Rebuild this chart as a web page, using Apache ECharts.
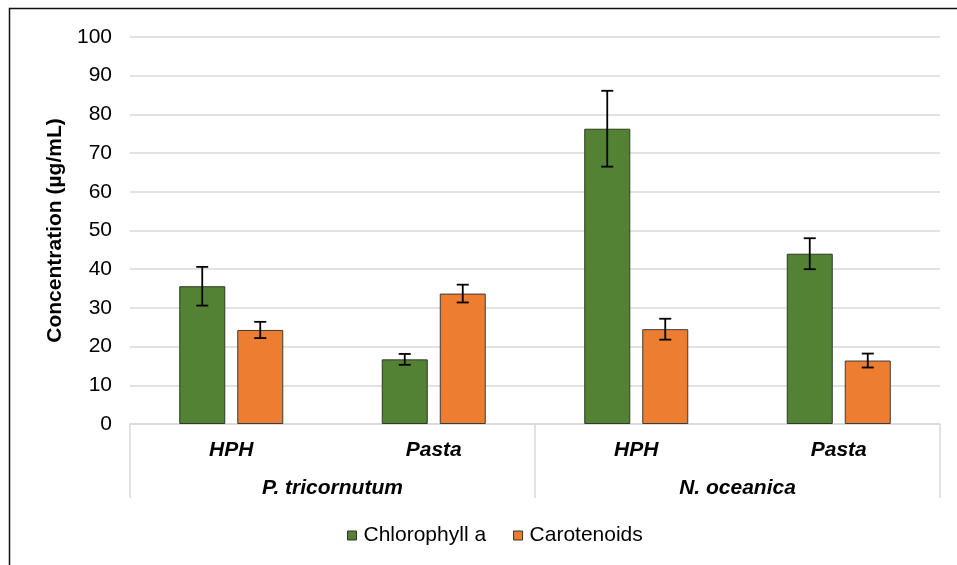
<!DOCTYPE html>
<html>
<head>
<meta charset="utf-8">
<script src="https://cdn.jsdelivr.net/npm/echarts@6/dist/echarts.min.js"></script>
<style>
  html, body { margin: 0; padding: 0; background: #fff; }
  #chart { width: 957px; height: 565px; }
</style>
</head>
<body>
<div id="chart"></div>
<script>
// Pigment concentration by species and extraction method
const categories = ['HPH', 'Pasta', 'HPH', 'Pasta'];
const species = ['P. tricornutum', 'N. oceanica'];
const chlorophyll = [35.6, 16.7, 76.3, 44.0];
const chlorophyllErr = [5.0, 1.4, 9.8, 4.0];
const carotenoids = [24.3, 33.7, 24.5, 16.4];
const carotenoidsErr = [2.1, 2.3, 2.7, 1.8];
const yTicks = { min: 0, max: 100, interval: 10 };

const FONT = '"Liberation Sans", Arial, sans-serif';
const FS = 21;
const BAR_W = 46;
const BAR_GAP = 12;
const SHIFT = (BAR_W + BAR_GAP) / 2;

function errorSeries(name, values, errs, dir) {
  return {
    name: name,
    type: 'custom',
    xAxisIndex: 0,
    z: 10,
    silent: true,
    data: values.map((v, i) => [i, v - errs[i], v + errs[i]]),
    renderItem: function (params, api) {
      const lo = api.coord([api.value(0), api.value(1)]);
      const hi = api.coord([api.value(0), api.value(2)]);
      const x = lo[0] + dir * SHIFT;
      const cap = 6;
      const style = { stroke: '#000', lineWidth: 1.8 };
      return {
        type: 'group',
        children: [
          { type: 'line', shape: { x1: x, y1: lo[1], x2: x, y2: hi[1] }, style: style },
          { type: 'line', shape: { x1: x - cap, y1: lo[1], x2: x + cap, y2: lo[1] }, style: style },
          { type: 'line', shape: { x1: x - cap, y1: hi[1], x2: x + cap, y2: hi[1] }, style: style }
        ]
      };
    }
  };
}

const chart = echarts.init(document.getElementById('chart'), null, { renderer: 'canvas' });
chart.setOption({
  animation: false,
  backgroundColor: '#fff',
  textStyle: { fontFamily: FONT },
  graphic: [{
    type: 'rect',
    shape: { x: 9.5, y: 8.5, width: 1000, height: 700 },
    style: { fill: 'none', stroke: '#111', lineWidth: 1.5 },
    silent: true
  }],
  grid: { left: 130, right: 17, top: 37, bottom: 141 },
  legend: {
    left: 342,
    top: 520,
    itemWidth: 9,
    itemHeight: 9,
    itemGap: 27,
    icon: 'rect',
    textStyle: { fontFamily: FONT, fontSize: FS, color: '#000', padding: [0, 0, 0, 2] },
    data: [
      { name: 'Chlorophyll a', itemStyle: { color: '#548235', borderColor: '#333', borderWidth: 1 } },
      { name: 'Carotenoids', itemStyle: { color: '#ed7d31', borderColor: '#333', borderWidth: 1 } }
    ]
  },
  xAxis: [
    {
      type: 'category',
      data: categories,
      position: 'bottom',
      axisLine: { show: true, lineStyle: { color: '#d9d9d9', width: 1.5 } },
      axisTick: { show: false },
      axisLabel: { margin: 16, fontFamily: FONT, fontSize: FS, fontWeight: 'bold', fontStyle: 'italic', color: '#000' }
    },
    {
      type: 'category',
      data: species,
      position: 'bottom',
      axisLine: { show: false },
      axisTick: { show: true, length: 74, lineStyle: { color: '#d9d9d9', width: 1.5 } },
      axisLabel: { margin: 54, fontFamily: FONT, fontSize: FS, fontWeight: 'bold', fontStyle: 'italic', color: '#000' }
    }
  ],
  yAxis: {
    type: 'value',
    min: yTicks.min,
    max: yTicks.max,
    interval: yTicks.interval,
    name: 'Concentration (µg/mL)',
    nameLocation: 'middle',
    nameGap: 61,
    nameTextStyle: { fontFamily: FONT, fontSize: FS, fontWeight: 'bold', color: '#000' },
    axisLine: { show: false },
    axisTick: { show: false },
    axisLabel: { margin: 18, fontFamily: FONT, fontSize: FS, color: '#000' },
    splitLine: { lineStyle: { color: '#d9d9d9', width: 1.5 } }
  },
  series: [
    {
      name: 'Chlorophyll a',
      type: 'bar',
      xAxisIndex: 0,
      data: chlorophyll,
      barWidth: BAR_W,
      barGap: (BAR_GAP / BAR_W * 100) + '%',
      itemStyle: { color: '#548235', borderColor: '#2b3a22', borderWidth: 1 }
    },
    {
      name: 'Carotenoids',
      type: 'bar',
      xAxisIndex: 0,
      data: carotenoids,
      barWidth: BAR_W,
      itemStyle: { color: '#ed7d31', borderColor: '#3a3a3a', borderWidth: 1 }
    },
    errorSeries('Chlorophyll a err', chlorophyll, chlorophyllErr, -1),
    errorSeries('Carotenoids err', carotenoids, carotenoidsErr, 1)
  ]
});
</script>
</body>
</html>
